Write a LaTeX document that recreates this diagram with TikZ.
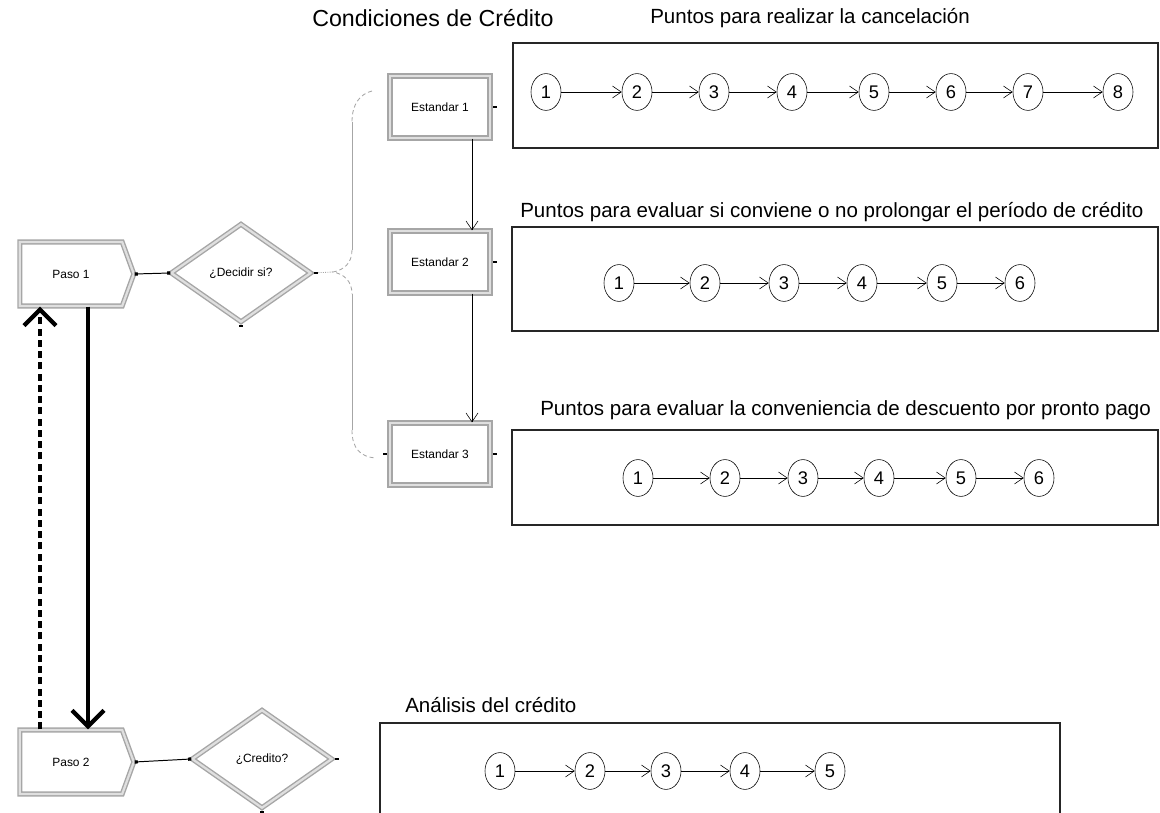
\documentclass[tikz,border=0pt]{standalone}
\usepackage{fontspec}
\setmainfont{Liberation Sans}
\usetikzlibrary{shapes.geometric,shapes.symbols,arrows.meta}
\begin{document}
\begin{tikzpicture}[x=0.025cm,y=-0.025cm,
  paso/.style={signal,signal to=east,signal pointer angle=140,draw=gray!70,line width=1pt,double=gray!25,double distance=1.6pt,minimum width=2.85cm,minimum height=1.6cm,inner sep=0pt,font=\fontsize{8.5}{9}\selectfont},
  estandar/.style={rectangle,draw=gray!70,line width=1pt,double=gray!25,double distance=1.6pt,minimum width=2.5cm,minimum height=1.55cm,font=\fontsize{8.5}{9}\selectfont},
  decision/.style={diamond,draw=gray!70,line width=1pt,double=gray!25,double distance=1.6pt,minimum width=3.5cm,minimum height=2.45cm,inner sep=0pt,font=\fontsize{8.5}{9}\selectfont},
  panel/.style={draw=black!85,line width=0.9pt},
  punto/.style={ellipse,draw,thin,minimum width=0.75cm,minimum height=0.92cm,inner sep=0pt,font=\fontsize{13}{13}\selectfont},
  titulo/.style={anchor=west,inner sep=0pt,font=\fontsize{14.6}{14.6}\selectfont},
  link/.style={thin,-{Straight Barb[length=0.22cm,width=0.3cm]}},
  feed/.style={line width=0.7pt,{Square[length=0.08cm,width=0.08cm]}-{Square[length=0.08cm,width=0.08cm]}},
  port/.style={rectangle,fill=black,inner sep=0pt,minimum width=0.1cm,minimum height=0.07cm},
  brace/.style={gray!70,line width=0.6pt}]
\useasboundingbox (0,0) rectangle (1160,813);
\clip (0,0) rectangle (1160,813);

% left column
\node[paso] (paso1) at (71,274) {Paso 1};
\node[paso] (paso2) at (71,762) {Paso 2};
\node[decision] (dec1) at (241,273) {¿Decidir si?};
\node[decision] (dec2) at (262,759) {¿Credito?};
\draw[feed] (paso1.east) -- (dec1.west);
\draw[feed] (paso2.east) -- (dec2.west);
\draw[line width=3pt,-{Straight Barb[length=0.4cm,width=0.8cm]}]
  ([xshift=0.425cm]paso1.south) -- ([xshift=0.425cm]paso2.north);
\draw[line width=3pt,dash pattern=on 5pt off 3pt,-{Straight Barb[length=0.4cm,width=0.8cm]}]
  ([xshift=-0.775cm]paso2.north) -- ([xshift=-0.775cm]paso1.south);

% condiciones de credito
\node[anchor=west,inner sep=0pt,font=\fontsize{16.5}{16.5}\selectfont] (cond) at (312,18) {Condiciones de Crédito};
\node[estandar] (est1) at (440,107) {Estandar 1};
\node[estandar] (est2) at (440,262) {Estandar 2};
\node[estandar] (est3) at (440,454) {Estandar 3};
\draw[link] ([xshift=0.8cm]est1.south) -- ([xshift=0.8cm]est2.north);
\draw[link] ([xshift=0.8cm]est2.south) -- ([xshift=0.8cm]est3.north);
\coordinate (btip) at (333,272);
\draw[brace,densely dotted] (dec1.east) -- (btip);
\draw[brace,densely dashed] (372,91) .. controls (360,94) and (352,104) .. (352,122);
\draw[brace] (352,122) -- (352,250);
\draw[brace,densely dashed] (352,250) .. controls (352,263) and (344,270) .. (btip)
  .. controls (344,274) and (352,281) .. (352,294);
\draw[brace] (352,294) -- (352,430);
\draw[brace,densely dashed] (352,430) .. controls (352,448) and (360,457) .. (376,458);
\foreach \a/\s in {est1.east/0.1cm,est2.east/0.1cm,est3.east/0.1cm,dec1.east/0.1cm,dec2.east/0.1cm,est3.west/-0.1cm}
  \node[port] at ([xshift=\s]\a) {};
\foreach \a in {dec1.south,dec2.south}
  \node[port] at ([yshift=-0.08cm]\a) {};

% panels
\draw[panel] (513,43) rectangle (1158,148);
\draw[panel] (512,227) rectangle (1158,331);
\draw[panel] (512,430) rectangle (1158,525);
\draw[panel] (380,723) rectangle (1060,830);
\node[titulo] (t1) at (650,18) {Puntos para realizar la cancelación};
\node[titulo] (t2) at (520,212) {Puntos para evaluar si conviene o no prolongar el período de crédito};
\node[titulo] (t3) at (540,410) {Puntos para evaluar la conveniencia de descuento por pronto pago};
\node[titulo] (t4) at (405,705) {Análisis del crédito};

% puntos
\foreach \n/\x in {1/546,2/637,3/714,4/792,5/874,6/951,7/1028,8/1118}
    \node[punto] (a\n) at (\x,92) {\n};
\foreach \n [remember=\n as \m (initially 1)] in {2,...,8}
    \draw[link] (a\m) -- (a\n);
\foreach \n/\x in {1/619,2/705,3/784,4/862,5/942,6/1020}
    \node[punto] (b\n) at (\x,283) {\n};
\foreach \n [remember=\n as \m (initially 1)] in {2,...,6}
    \draw[link] (b\m) -- (b\n);
\foreach \n/\x in {1/638,2/725,3/803,4/879,5/961,6/1039}
    \node[punto] (c\n) at (\x,478) {\n};
\foreach \n [remember=\n as \m (initially 1)] in {2,...,6}
    \draw[link] (c\m) -- (c\n);
\foreach \n/\x in {1/500,2/590,3/666,4/745,5/830}
    \node[punto] (d\n) at (\x,771) {\n};
\foreach \n [remember=\n as \m (initially 1)] in {2,...,5}
    \draw[link] (d\m) -- (d\n);
\end{tikzpicture}
\end{document}
